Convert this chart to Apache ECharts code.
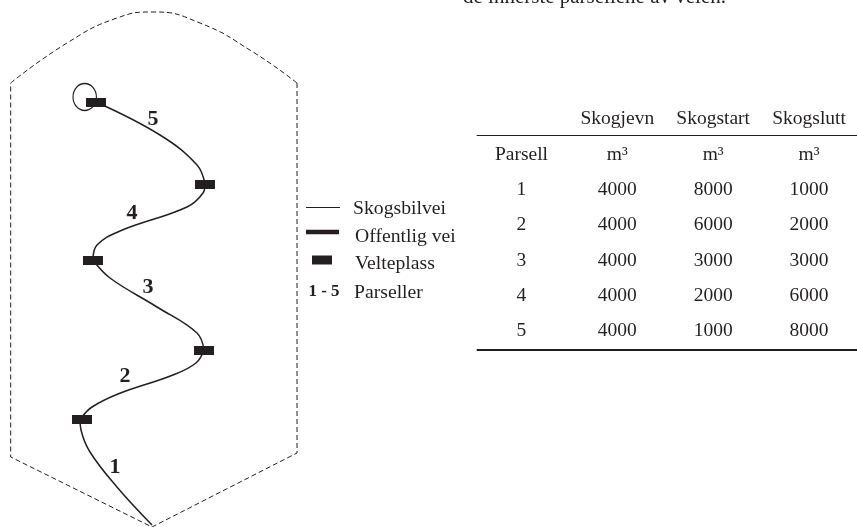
<!DOCTYPE html>
<html>
<head>
<meta charset="utf-8">
<title>Skogsbilvei</title>
<script src="https://cdn.jsdelivr.net/npm/echarts@6/dist/echarts.min.js"></script>
<style>
	html, body { margin: 0; padding: 0; background: #fff; overflow: hidden; }
	#main { width: 857px; height: 527px; }
</style>
</head>
<body>
<div id="main"></div>
<script>
// kartet er lest av bildet, [x, y] i bildets enheter
var boundaryTop = [[10.7, 83], [67, 43], [117, 18], [153, 12], [200, 23], [253, 52], [297, 83]];
var boundaryBottom = [[297, 83], [297, 453], [152, 527], [10.7, 457], [10.7, 83]];
var parcel1 = [[152, 525], [116.7, 486.7], [90, 452], [81, 430], [80, 419]];
var parcel2 = [[82, 417], [92, 407], [118, 394], [173, 375], [196, 363], [204, 350]];
var parcel3 = [[204, 350], [197, 333], [157, 307], [110, 278], [93, 260]];
var parcel4 = [[93, 260], [97, 245], [120, 231], [187, 207], [203, 193], [205, 184]];
var parcel5 = [[205, 184], [197, 165], [160, 135], [96, 102]];
var turnLoop = [[84.7, 97]];
var landings = [[82, 419.5], [204, 350.5], [93, 260.5], [205, 184.5], [96, 102.5]];
var parcelMarks = [[115, 467, '1'], [125, 376, '2'], [148, 287, '3'], [132, 213, '4'], [153, 119, '5']];

// tegnforklaring
var legendThin = [[306, 207.5], [340, 207.5]];
var legendThick = [[306, 232], [339, 232]];
var legendLanding = [[322, 260]];
var legendTexts = [[353, 209, 'Skogsbilvei'], [355, 236.5, 'Offentlig vei'], [355, 263.5, 'Velteplass'], [354, 292.5, 'Parseller']];
var legendBold = [[324, 292, '1 - 5']];

// tabell
var tableCols = ['Parsell', 'Skogjevn', 'Skogstart', 'Skogslutt'];
var tableRows = ['head', 'unit', '1', '2', '3', '4', '5'];
var skogjevn = [4000, 4000, 4000, 4000, 4000];
var skogstart = [8000, 6000, 3000, 2000, 1000];
var skogslutt = [1000, 2000, 3000, 6000, 8000];
var ruleTop = [[476.7, 135.5], [857, 135.5]];
var ruleBottom = [[476.7, 350], [857, 350]];

var INK = '#231f20';
var SERIF = '"Liberation Serif", serif';

function lineSeries(data, width, extra) {
	var s = {
		type: 'line',
		xAxisIndex: 0,
		yAxisIndex: 0,
		data: data,
		showSymbol: false,
		silent: true,
		lineStyle: { color: INK, width: width }
	};
	for (var k in extra) {
		s[k] = extra[k];
	}
	return s;
}

function textSeries(data, align, size, weight) {
	return {
		type: 'scatter',
		xAxisIndex: 0,
		yAxisIndex: 0,
		symbolSize: 0,
		silent: true,
		itemStyle: { opacity: 1 },
		data: data,
		label: {
			show: true,
			position: 'inside',
			align: align,
			verticalAlign: 'middle',
			color: INK,
			fontFamily: SERIF,
			fontSize: size,
			fontWeight: weight,
			formatter: function (p) { return p.value[2]; }
		}
	};
}

// tabellcellene bygges fra listene
var cells = [];
tableCols.forEach(function (c, i) {
	if (i > 0) {
		cells.push([i, 0, c]);
		cells.push([i, 1, 'm³']);
	}
});
cells.push([0, 1, tableCols[0]]);
for (var r = 0; r < 5; r++) {
	cells.push([0, r + 2, tableRows[r + 2]]);
	cells.push([1, r + 2, skogjevn[r]]);
	cells.push([2, r + 2, skogstart[r]]);
	cells.push([3, r + 2, skogslutt[r]]);
}

var myChart = echarts.init(document.getElementById('main'), null, { renderer: 'canvas' });
var option = {
	animation: false,
	backgroundColor: '#fff',
	title: {
		text: 'de innerste parsellene av veien.',
		left: 463,
		top: -13,
		padding: 0,
		textStyle: { fontFamily: SERIF, fontSize: 21, fontWeight: 'normal', color: INK }
	},
	grid: [
		{ left: 0, top: 0, width: 857, height: 527 },
		{ left: 473.5, top: 101.5, width: 388, height: 247.3 }
	],
	xAxis: [
		{ type: 'value', min: 0, max: 857, show: false, gridIndex: 0 },
		{ type: 'category', data: tableCols, show: false, gridIndex: 1 }
	],
	yAxis: [
		{ type: 'value', min: 0, max: 527, inverse: true, show: false, gridIndex: 0 },
		{ type: 'category', data: tableRows, inverse: true, show: false, gridIndex: 1 }
	],
	series: [
		lineSeries(boundaryTop, 1, { smooth: 0.5, lineStyle: { color: INK, width: 1, type: [5, 3] } }),
		lineSeries(boundaryBottom, 1, { lineStyle: { color: INK, width: 1, type: [5, 3] } }),
		lineSeries(parcel1, 1.5, { smooth: 0.4 }),
		lineSeries(parcel2, 1.5, { smooth: 0.4 }),
		lineSeries(parcel3, 1.5, { smooth: 0.4 }),
		lineSeries(parcel4, 1.5, { smooth: 0.4 }),
		lineSeries(parcel5, 1.5, { smooth: 0.4 }),
		{
			type: 'scatter',
			xAxisIndex: 0,
			yAxisIndex: 0,
			symbol: 'circle',
			symbolSize: [23.4, 27],
			silent: true,
			itemStyle: { color: 'rgba(0,0,0,0)', borderColor: INK, borderWidth: 1.2, opacity: 1 },
			data: turnLoop
		},
		{
			type: 'scatter',
			xAxisIndex: 0,
			yAxisIndex: 0,
			symbol: 'rect',
			symbolSize: [20, 9],
			silent: true,
			itemStyle: { color: INK, opacity: 1 },
			data: landings.concat(legendLanding)
		},
		lineSeries(legendThin, 1),
		lineSeries(legendThick, 4.5),
		lineSeries(ruleTop, 1),
		lineSeries(ruleBottom, 2),
		textSeries(parcelMarks, 'center', 22, 'bold'),
		textSeries(legendTexts, 'left', 19.7, 'normal'),
		textSeries(legendBold, 'center', 17, 'bold'),
		{
			type: 'scatter',
			xAxisIndex: 1,
			yAxisIndex: 1,
			symbolSize: 0,
			silent: true,
			itemStyle: { opacity: 1 },
			data: cells,
			label: {
				show: true,
				position: 'inside',
				align: 'center',
				verticalAlign: 'middle',
				color: INK,
				fontFamily: SERIF,
				fontSize: 19.5,
				formatter: function (p) { return p.value[2]; }
			}
		}
	]
};
myChart.setOption(option);
</script>
</body>
</html>
